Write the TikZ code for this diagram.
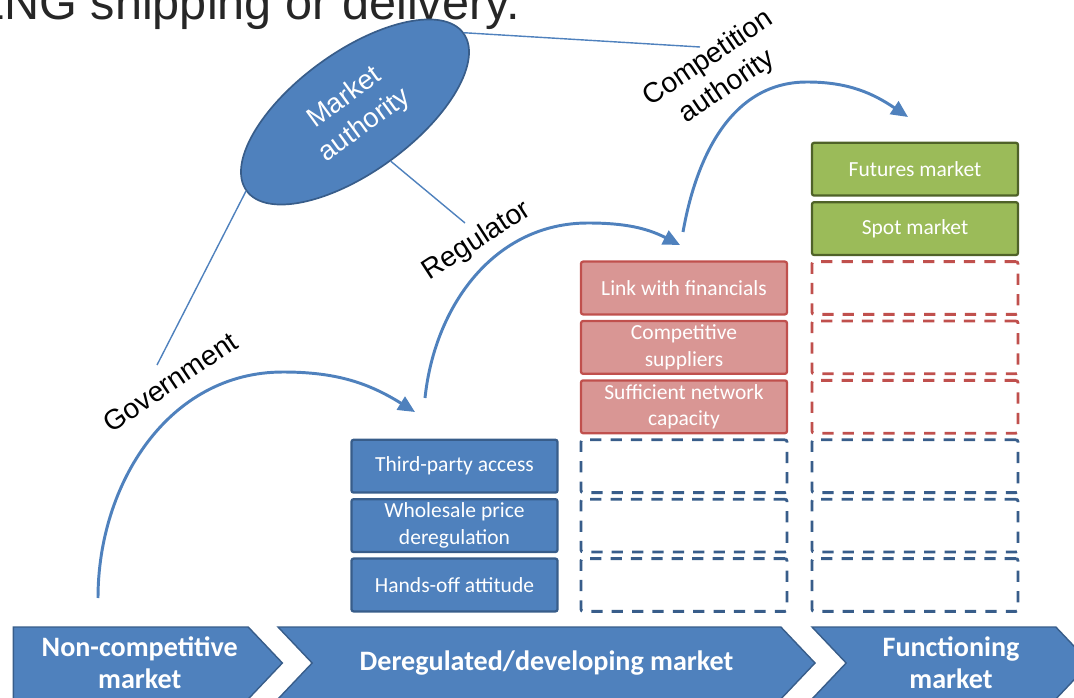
\documentclass[tikz,border=0pt]{standalone}
\usepackage{fontspec}
\setmainfont{Carlito}
\newfontfamily\arialfont{Liberation Sans}
\usepackage{tikz}
\usetikzlibrary{arrows.meta,shapes.geometric,shapes.symbols}
\definecolor{offblue}{HTML}{4F81BD}
\definecolor{offblueline}{HTML}{385D8A}
\definecolor{offred}{HTML}{C0504D}
\definecolor{offredfill}{HTML}{D99694}
\definecolor{offgreen}{HTML}{9BBB59}
\definecolor{offgreenline}{HTML}{4F6228}
\definecolor{slidetext}{HTML}{262626}

\begin{document}
\begin{tikzpicture}[
  font=\fontsize{15.3}{19}\selectfont,
  cell/.style={minimum width=5.15cm,minimum height=1.32cm,inner sep=0pt,
               align=center,text=white,rounded corners=1.5pt},
  bluebox/.style={cell,draw=offblueline,line width=1.6pt,fill=offblue},
  redbox/.style={cell,draw=offred,line width=1.6pt,fill=offredfill},
  greenbox/.style={cell,draw=offgreenline,line width=1.6pt,fill=offgreen},
  blueslot/.style={cell,draw=offblueline,line width=2pt,
               dash pattern=on 8pt off 6.5pt},
  redslot/.style={cell,draw=offred,line width=2pt,
               dash pattern=on 8pt off 6.5pt},
  stage/.style={signal,signal to=east,signal pointer angle=93,
               draw=offblueline,line width=1pt,fill=offblue,text=white,
               align=center,minimum height=1.8cm,inner sep=0pt,
               font=\fontsize{20}{23}\selectfont\bfseries},
  lbl/.style={font=\arialfont\fontsize{20}{24}\selectfont,align=center},
  arc/.style={-{Triangle[length=0.42cm,width=0.38cm]},line width=2.1pt,
               draw=offblue},
  link/.style={line width=1pt,draw=offblue}
]
\useasboundingbox (0,0) rectangle (26.85,17.425);
\clip (0,0) rectangle (26.85,17.425);

\node[anchor=base west,inner sep=0pt,text=slidetext,
      font=\arialfont\fontsize{34.6}{40}\selectfont] (head) at (-0.575,16.925)
  {LNG shipping or delivery.};

\node[stage,minimum width=6.725cm] (nocomp) at (3.27,0.85)
  {\hspace*{0.45cm}Non-competitive\\\hspace*{0.45cm}market};
\node[stage,signal from=west,minimum width=13.425cm] (dereg) at (13.6625,0.85)
  {Deregulated/developing market};
\node[stage,signal from=west,minimum width=6.95cm] (func) at (23.775,0.85)
  {Functioning\\market};

\node[bluebox] (third) at (11.3625,5.77) {Third-party access};
\node[bluebox] (whole) at (11.3625,4.285) {Wholesale price\\deregulation};
\node[bluebox] (hands) at (11.3625,2.8) {Hands-off attitude};

\node[redbox] (fin) at (17.1,10.225) {Link with financials};
\node[redbox] (supp) at (17.1,8.74) {Competitive\\suppliers};
\node[redbox] (netcap) at (17.1,7.255) {Sufficient network\\capacity};
\node[blueslot] (slotb3) at (17.1,5.77) {};
\node[blueslot] (slotb2) at (17.1,4.285) {};
\node[blueslot] (slotb1) at (17.1,2.8) {};

\node[greenbox] (futures) at (22.875,13.195) {Futures market};
\node[greenbox] (spot) at (22.875,11.71) {Spot market};
\node[redslot] (slotc6) at (22.875,10.225) {};
\node[redslot] (slotc5) at (22.875,8.74) {};
\node[redslot] (slotc4) at (22.875,7.255) {};
\node[blueslot] (slotc3) at (22.875,5.77) {};
\node[blueslot] (slotc2) at (22.875,4.285) {};
\node[blueslot] (slotc1) at (22.875,2.8) {};

\node[ellipse,fill=offblue,draw=offblueline,line width=1.2pt,
      minimum width=6.7cm,minimum height=3cm,inner sep=0pt,rotate=36,
      text=white,align=center,font=\arialfont\fontsize{19.5}{24}\selectfont]
  (mkt) at (8.875,14.625) {Market\\authority};

\coordinate (govend) at (3.925,8.3);
\coordinate (regend) at (11.625,11.85);
\coordinate (compend) at (17.5,16.25);
\draw[link] (mkt.west) -- (govend);
\draw[link] (mkt.south) -- (regend);
\draw[link] (mkt.east) -- (compend);

\node[lbl,rotate=34] (gov) at (4.25,7.875) {Government};
\node[lbl,rotate=33] (reg) at (11.925,11.4) {Regulator};
\node[lbl,rotate=34] (comp) at (17.95,15.6) {Competition\\authority};

\coordinate (g0) at (2.45,2.475);
\coordinate (gtop) at (7.075,8.125);
\coordinate (g1) at (10.375,7.125);
\coordinate (r0) at (10.625,7.475);
\coordinate (rtop) at (14.7,11.85);
\coordinate (r1) at (17.0,11.3);
\coordinate (k0) at (17.075,11.625);
\coordinate (ktop) at (20.175,15.375);
\coordinate (k1) at (22.7,14.5);
\draw[arc] (g0) to[out=90,in=180] (gtop) to[out=0,in=148] (g1);
\draw[arc] (r0) to[out=84,in=180] (rtop) to[out=0,in=153] (r1);
\draw[arc] (k0) to[out=80,in=180] (ktop) to[out=0,in=146] (k1);
\end{tikzpicture}
\end{document}
